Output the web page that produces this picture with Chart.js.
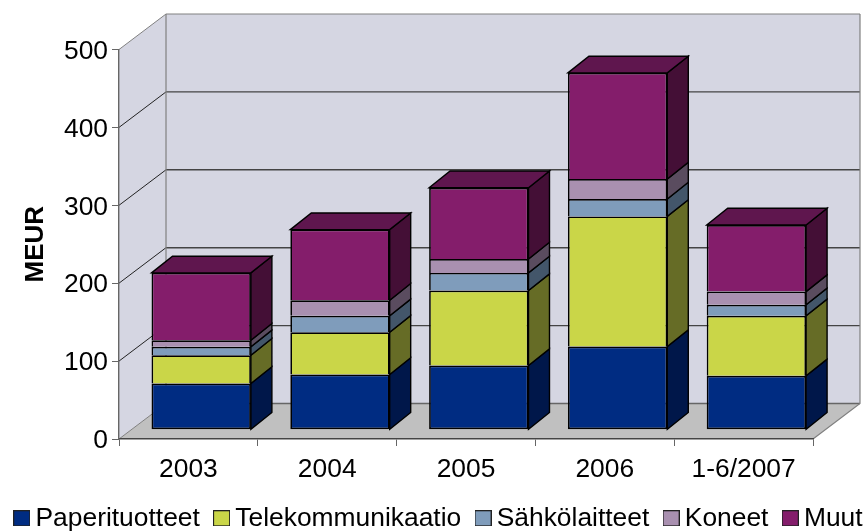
<!DOCTYPE html>
<html><head><meta charset="utf-8">
<style>html,body{margin:0;padding:0;background:#fff}#w{width:864px;height:531px;position:relative}</style>
<script src="https://cdn.jsdelivr.net/npm/chart.js@4"></script></head>
<body><div id="w"><canvas id="c" width="864" height="531"></canvas></div>
<script>
const categories = ['2003','2004','2005','2006','1-6/2007'];
const paperituotteet = [59.4, 70.9, 82.4, 106.8, 69.2];
const telekommunikaatio = [36.2, 54.2, 96.2, 167.0, 77.0];
const sahkolaitteet = [10.8, 21.1, 22.7, 22.4, 14.1];
const koneet = [8.5, 20.0, 17.9, 25.6, 17.0];
const muut = [86.4, 90.6, 91.4, 136.2, 85.5];
const FONT = 'Liberation Sans, Arial, sans-serif';
const FS = 26.4;
const WALL_DX = 47, WALL_DY = 35.5;      // room depth
const BAR_DX = 12.8, BAR_DY = 9.3;       // bar offset into the room
const SIDE_DX = 21, SIDE_DY = 16.7;      // bar depth

function poly(ctx, pts, fill, stroke, lw){
  ctx.beginPath();
  pts.forEach((p,i)=> i?ctx.lineTo(p[0],p[1]):ctx.moveTo(p[0],p[1]));
  ctx.closePath();
  if(fill){ctx.fillStyle=fill;ctx.fill();}
  if(stroke){ctx.strokeStyle=stroke;ctx.lineWidth=lw||1;ctx.stroke();}
}
function swatch(color){
  const c=document.createElement('canvas');c.width=17;c.height=16;
  const g=c.getContext('2d');
  g.fillStyle=color;g.fillRect(0,0,17,16);
  g.strokeStyle='#222';g.lineWidth=1;g.strokeRect(0.5,0.5,16,15);
  return c;
}
const room = {
  id:'room',
  beforeDraw(chart){
    const {ctx,chartArea:a,scales:{y}}=chart;
    const l=a.left,r=a.right,t=y.getPixelForValue(500),b=y.getPixelForValue(0);
    ctx.save();
    poly(ctx,[[l,t],[l+WALL_DX,t-WALL_DY],[l+WALL_DX,b-WALL_DY],[l,b]],'#D5D6E2');
    poly(ctx,[[l+WALL_DX,t-WALL_DY],[r+WALL_DX,t-WALL_DY],[r+WALL_DX,b-WALL_DY],[l+WALL_DX,b-WALL_DY]],'#D5D6E2');
    poly(ctx,[[l,b],[l+WALL_DX,b-WALL_DY],[r+WALL_DX,b-WALL_DY],[r,b]],'#C0C0C0');
    y.ticks.forEach(tk=>{
      const p=y.getPixelForValue(tk.value);
      const top=tk.value===500, zero=tk.value===0;
      ctx.strokeStyle=top?'#808080':(zero?'#808080':'#222');
      ctx.lineWidth=1;
      ctx.beginPath();ctx.moveTo(l,p);ctx.lineTo(l+WALL_DX,p-WALL_DY);ctx.stroke();
      ctx.strokeStyle=top?'#808080':(zero?'#666':'#444');
      ctx.lineWidth=top?1:1.4;
      ctx.beginPath();ctx.moveTo(l+WALL_DX,p-WALL_DY);ctx.lineTo(r+WALL_DX,p-WALL_DY);ctx.stroke();
    });
    ctx.strokeStyle='#808080';ctx.lineWidth=1.2;
    ctx.beginPath();ctx.moveTo(l+WALL_DX,t-WALL_DY);ctx.lineTo(l+WALL_DX,b-WALL_DY);ctx.stroke();
    ctx.beginPath();ctx.moveTo(r+WALL_DX,t-WALL_DY);ctx.lineTo(r+WALL_DX,b-WALL_DY);ctx.lineTo(r,b);ctx.stroke();
    ctx.restore();
  },
  beforeDatasetsDraw(chart){
    const ctx=chart.ctx;
    ctx.save();
    ctx.translate(BAR_DX,-BAR_DY);
    const n=chart.data.datasets.length;
    chart.data.datasets.forEach((ds,i)=>{
      chart.getDatasetMeta(i).data.forEach(bar=>{
        const R=bar.x+bar.width/2, Lf=bar.x-bar.width/2;
        poly(ctx,[[R,bar.y],[R+SIDE_DX,bar.y-SIDE_DY],[R+SIDE_DX,bar.base-SIDE_DY],[R,bar.base]],ds.sideColor,'#000',1.4);
        if(i===n-1) poly(ctx,[[Lf,bar.y],[Lf+SIDE_DX,bar.y-SIDE_DY],[R+SIDE_DX,bar.y-SIDE_DY],[R,bar.y]],ds.topColor,'#000',1.4);
      });
    });
  },
  afterDatasetsDraw(chart){chart.ctx.restore();}
};
const mk=(label,data,bg,side,top,skip)=>({label,data,backgroundColor:bg,sideColor:side,topColor:top,
  borderColor:'#000',borderWidth:1.7,borderSkipped:skip,clip:false,stack:'a',
  categoryPercentage:1,barPercentage:0.716});
new Chart(document.getElementById('c'),{
  type:'bar',
  data:{labels:categories,datasets:[
    mk('Paperituotteet',paperituotteet,'#002C82','#00174A','#00174A',false),
    mk('Telekommunikaatio',telekommunikaatio,'#CAD648','#666C26','#666C26','start'),
    mk('Sähkölaitteet',sahkolaitteet,'#7F9CBB','#43566A','#43566A','start'),
    mk('Koneet',koneet,'#A990B0','#5A4C5F','#5A4C5F','start'),
    mk('Muut',muut,'#841D6B','#440F36','#5F164E','start')
  ]},
  plugins:[room],
  options:{
    responsive:false,animation:false,
    layout:{padding:{left:0,right:-40,top:49.5,bottom:-10.5}},
    plugins:{
      tooltip:{enabled:false},
      legend:{position:'bottom',align:'start',
        labels:{font:{family:FONT,size:FS},color:'#000',usePointStyle:true,boxWidth:1,boxHeight:16,padding:21.3,
          generateLabels(chart){
            return Chart.defaults.plugins.legend.labels.generateLabels(chart).map((it,i)=>{
              it.pointStyle=swatch(chart.data.datasets[i].backgroundColor);
              return it;
            });
          }}}
    },
    scales:{
      x:{stacked:true,
        grid:{drawOnChartArea:false,drawTicks:true,tickLength:7,color:'#666',offset:true},
        border:{color:'#444',width:1.6},
        ticks:{font:{family:FONT,size:FS},color:'#000',padding:8,maxRotation:0},
        afterFit(s){s.height=44.8;s.paddingRight=51;}
      },
      y:{stacked:true,min:0,max:500,
        grid:{drawOnChartArea:false,drawTicks:true,tickLength:7,color:'#666'},
        border:{color:'#666',width:1.4},
        ticks:{font:{family:FONT,size:FS},color:'#000',stepSize:100,padding:4,labelOffset:2},
        title:{display:true,text:'MEUR',color:'#000',font:{family:FONT,size:26,weight:'bold'},padding:{top:20.7,bottom:0}},
        afterFit(s){s.width=119;}
      }
    }
  }
});
</script></body></html>
